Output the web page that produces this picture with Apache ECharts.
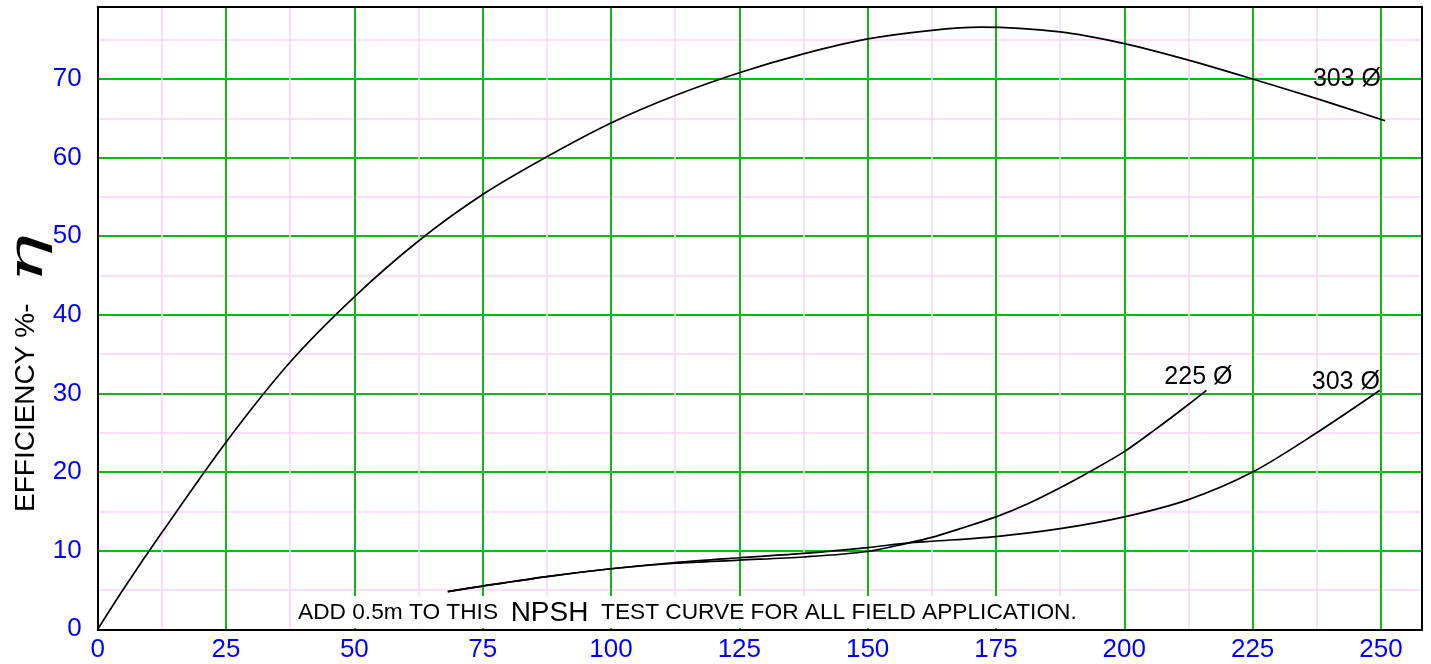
<!DOCTYPE html>
<html><head><meta charset="utf-8">
<script src="https://cdn.jsdelivr.net/npm/echarts@6/dist/echarts.min.js"></script>
<style>html,body{margin:0;padding:0;background:#fff}#c{width:1431px;height:664px}</style>
</head><body><div id="c"></div>
<script>
// Efficiency curve (303 Ø): flow vs efficiency %
const effFlow = [0, 5, 12.5, 25, 37.5, 50, 62.5, 75, 87.5, 100, 112.5, 125, 137.5, 150, 162.5, 172, 187.5, 200, 212.5, 225, 237.5, 250.8];
const effVal  = [0, 5.1, 12.3, 23.8, 34.0, 42.3, 49.4, 55.3, 60.1, 64.4, 67.9, 70.8, 73.2, 75.1, 76.2, 76.6, 76.0, 74.5, 72.4, 70.0, 67.5, 64.7];
// NPSH curve 225 Ø
const npsh225Flow = [68.2, 75, 87.5, 100, 112.5, 125, 137.5, 150, 158, 162.5, 168, 175, 181, 187.5, 193.7, 200, 206, 212.5, 216];
const npsh225Val  = [4.8, 5.5, 6.7, 7.7, 8.4, 8.8, 9.2, 9.9, 11.0, 11.7, 12.8, 14.3, 15.9, 18.0, 20.2, 22.6, 25.4, 28.6, 30.4];
// NPSH curve 303 Ø
const npsh303Flow = [68.2, 75, 87.5, 100, 112.5, 125, 137.5, 150, 158, 162.5, 175, 187.5, 200, 212.5, 225, 237.5, 249.8];
const npsh303Val  = [4.8, 5.5, 6.7, 7.7, 8.5, 9.1, 9.65, 10.4, 11.0, 11.2, 11.8, 12.8, 14.3, 16.5, 20.0, 25.0, 30.4];
// Axes
const xMin = 0, xMax = 258, xMajor = 25, xMinor = 12.5;
const yMin = 0, yMax = 79.2, yMajor = 10, yMinor = 5;
const labelEff = '303 Ø', label225 = '225 Ø', label303 = '303 Ø';
const yTitle = 'EFFICIENCY %-', yTitleSym = 'η';
const noteA = 'ADD 0.5m TO THIS  ', noteB = 'NPSH', noteC = '  TEST CURVE FOR ALL FIELD APPLICATION.';

const zip = (a, b) => a.map((v, i) => [v, b[i]]);
const FONT = 'Liberation Sans';
const BLUE = '#0000ff', GREEN = '#10b910', PINK = '#fcd2f8';
const chart = echarts.init(document.getElementById('c'), null, {renderer: 'canvas'});
const lineBase = {type: 'line', xAxisIndex: 1, yAxisIndex: 1, showSymbol: false, symbol: 'none', smooth: 0.3,
  lineStyle: {color: '#000', width: 1.7}, itemStyle: {color: '#000'}, z: 5};
const endLbl = (txt, off, align) => ({show: true, formatter: txt, color: '#000', fontFamily: FONT, fontSize: 25,
  offset: off, align: align, verticalAlign: 'middle', distance: 0});
chart.setOption({
  animation: false,
  grid: {left: 97.7, right: 9, top: 6.7, bottom: 34.7, containLabel: false},
  xAxis: [
    {type: 'value', min: xMin, max: xMax, interval: xMinor, position: 'top',
     axisLine: {show: true, onZero: false, lineStyle: {color: '#000', width: 2}}, axisTick: {show: false}, axisLabel: {show: false},
     splitLine: {show: true, showMinLine: false, showMaxLine: false, lineStyle: {color: PINK, width: 1.5}}},
    {type: 'value', min: xMin, max: xMax, interval: xMajor, position: 'bottom',
     axisLine: {show: true, onZero: false, lineStyle: {color: '#000', width: 2}}, axisTick: {show: false},
     axisLabel: {color: BLUE, fontFamily: FONT, fontSize: 26, margin: 8, showMaxLabel: false,
       formatter: v => (v % xMajor === 0 ? String(v) : '')},
     splitLine: {show: true, showMinLine: false, showMaxLine: false, lineStyle: {color: GREEN, width: 2}}}
  ],
  yAxis: [
    {type: 'value', min: yMin, max: yMax, interval: yMinor, position: 'right',
     axisLine: {show: true, onZero: false, lineStyle: {color: '#000', width: 2}}, axisTick: {show: false}, axisLabel: {show: false},
     splitLine: {show: true, showMinLine: false, showMaxLine: false, lineStyle: {color: PINK, width: 1.5}}},
    {type: 'value', min: yMin, max: yMax, interval: yMajor, position: 'left',
     axisLine: {show: true, onZero: false, lineStyle: {color: '#000', width: 2}}, axisTick: {show: false},
     axisLabel: {color: BLUE, fontFamily: FONT, fontSize: 26, margin: 16, showMaxLabel: false,
       formatter: v => (v % yMajor === 0 ? String(v) : '')},
     splitLine: {show: true, showMinLine: false, showMaxLine: false, lineStyle: {color: GREEN, width: 2}}}
  ],
  series: [
    Object.assign({}, lineBase, {name: 'eff', data: zip(effFlow, effVal), endLabel: endLbl(labelEff, [-4, -42], 'right')}),
    Object.assign({}, lineBase, {name: 'n225', data: zip(npsh225Flow, npsh225Val), endLabel: endLbl(label225, [-8, -13], 'center')}),
    Object.assign({}, lineBase, {name: 'n303', data: zip(npsh303Flow, npsh303Val), endLabel: endLbl(label303, [0, -8], 'right')})
  ],
  graphic: [
    {type: 'text', z: 100, x: 26, y: 512, rotation: Math.PI / 2, style: {text: yTitle, fill: '#000', font: '28px "Liberation Sans"', align: 'left', verticalAlign: 'middle'}},
    {type: 'text', z: 100, x: 30, y: 259, rotation: Math.PI / 2, scaleX: 1.7, scaleY: 1.0, style: {text: yTitleSym, fill: '#000', font: 'italic 48px "DejaVu Serif"', align: 'center', verticalAlign: 'middle'}},
    {type: 'text', z: 100, x: 296, y: 612, style: {
      text: '{a|' + noteA + '}{b|' + noteB + '}{a|' + noteC + '}', verticalAlign: 'middle', align: 'left',
      backgroundColor: '#fff', padding: [3, 4, 1, 2],
      rich: {a: {fontFamily: FONT, fontSize: 22.7, fill: '#000', color: '#000'}, b: {fontFamily: FONT, fontSize: 28, fill: '#000', color: '#000'}}}}
  ]
});
</script></body></html>
